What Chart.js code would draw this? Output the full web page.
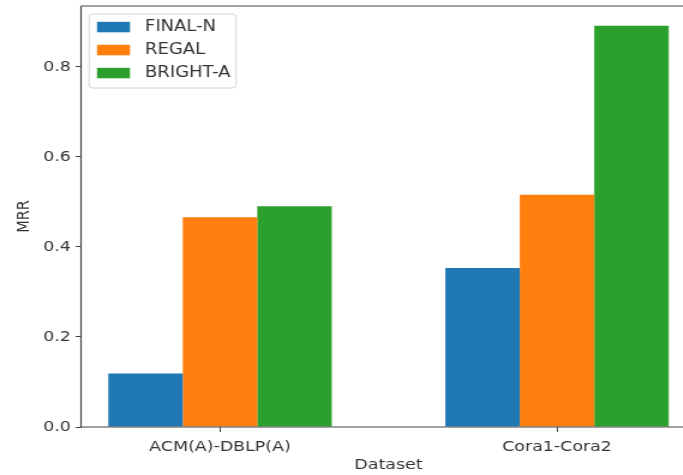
<!DOCTYPE html>
<html>
<head>
<meta charset="utf-8">
<script src="https://cdn.jsdelivr.net/npm/chart.js@4.4.1/dist/chart.umd.min.js"></script>
<style>
  html, body { margin: 0; padding: 0; background: #fff; overflow: hidden; }
  /* the figure is drawn narrow and widened horizontally */
  #wrap { width: 584px; height: 475px; transform: scaleX(1.2); transform-origin: 0 0; }
  canvas { display: block; }
</style>
</head>
<body>
<div id="wrap"><canvas id="c" width="584" height="475"></canvas></div>
<script>
// MRR per dataset pair
const categories = ['ACM(A)-DBLP(A)', 'Cora1-Cora2'];
const seriesNames = ['FINAL-N', 'REGAL', 'BRIGHT-A'];
const finalN  = [0.119, 0.353];
const regal   = [0.466, 0.516];
const brightA = [0.490, 0.891];
const yTicks  = [0.0, 0.2, 0.4, 0.6, 0.8];
const seriesColors = ['#1f77b4', '#ff7f0e', '#2ca02c'];

const textColor = '#333';
const FONT = 'DejaVu Sans';
Chart.defaults.font.family = FONT;

const toPoints = vals => vals.map((v, i) => ({ x: i, y: v }));

const noEdgePadding = s => {
  s.paddingTop = 0; s.paddingBottom = 0; s.paddingLeft = 0; s.paddingRight = 0;
};

// frame around the plotting area, drawn over the bars
const spines = {
  id: 'spines',
  afterDatasetsDraw(chart) {
    const { ctx, chartArea: a } = chart;
    ctx.save();
    ctx.strokeStyle = '#444';
    ctx.lineWidth = 1.2;
    ctx.beginPath();
    ctx.moveTo(a.left, a.top); ctx.lineTo(a.right, a.top);
    ctx.moveTo(a.left, a.bottom); ctx.lineTo(a.right, a.bottom);
    ctx.moveTo(a.left, a.top); ctx.lineTo(a.left, a.bottom);
    ctx.moveTo(a.right, a.top); ctx.lineTo(a.right, a.bottom);
    ctx.stroke();
    ctx.restore();
  }
};

// boxed legend in the upper-left corner of the plot
const legendBox = {
  id: 'legendBox',
  afterDatasetsDraw(chart) {
    const { ctx, chartArea: a } = chart;
    const x = a.left + 6.7, y = a.top + 8, w = 122.5, h = 74;
    ctx.save();
    ctx.fillStyle = 'rgba(255,255,255,0.9)';
    ctx.strokeStyle = '#d4d4d4';
    ctx.lineWidth = 1;
    ctx.beginPath();
    ctx.roundRect(x, y, w, h, 3);
    ctx.fill();
    ctx.stroke();
    ctx.font = `15px "${FONT}"`;
    ctx.textBaseline = 'middle';
    ctx.textAlign = 'left';
    chart.data.datasets.forEach((ds, i) => {
      const cy = y + 13 + i * 23;
      ctx.fillStyle = ds.backgroundColor;
      ctx.fillRect(x + 6.6, cy - 5.2, 27.5, 10.5);
      ctx.fillStyle = textColor;
      ctx.fillText(ds.label, x + 46.6, cy + 0.5);
    });
    ctx.restore();
  }
};

new Chart(document.getElementById('c'), {
  type: 'bar',
  data: {
    datasets: [
      { label: seriesNames[0], data: toPoints(finalN),  backgroundColor: seriesColors[0] },
      { label: seriesNames[1], data: toPoints(regal),   backgroundColor: seriesColors[1] },
      { label: seriesNames[2], data: toPoints(brightA), backgroundColor: seriesColors[2] }
    ]
  },
  options: {
    responsive: false,
    animation: false,
    devicePixelRatio: 1,
    categoryPercentage: 0.663,
    barPercentage: 1.0,
    layout: { padding: { top: 6, right: 4, left: 0, bottom: 0 } },
    plugins: {
      legend: { display: false },
      tooltip: { enabled: false }
    },
    scales: {
      x: {
        type: 'linear',
        offset: false,
        min: -0.4125,
        max: 1.4125,
        afterBuildTicks: s => { s.ticks = categories.map((_, i) => ({ value: i })); },
        afterFit: s => { s.height = 48; noEdgePadding(s); },
        ticks: {
          callback: v => categories[v] ?? '',
          autoSkip: false,
          maxRotation: 0,
          padding: 7,
          color: textColor,
          font: { size: 14.5 }
        },
        grid: { offset: false, drawOnChartArea: false, drawTicks: true, tickLength: 5, color: '#444' },
        border: { display: false },
        title: {
          display: true,
          text: 'Dataset',
          color: textColor,
          font: { size: 14.5 },
          padding: { top: 2, bottom: 1 }
        }
      },
      y: {
        min: 0,
        max: 0.935,
        afterBuildTicks: s => { s.ticks = yTicks.map(v => ({ value: v })); },
        afterFit: s => { s.width = 67.5; noEdgePadding(s); },
        ticks: {
          callback: v => Number(v).toFixed(1),
          padding: 4,
          color: textColor,
          font: { size: 14.5 }
        },
        grid: { drawOnChartArea: false, drawTicks: true, tickLength: 4.5, color: '#444' },
        border: { display: false },
        title: {
          display: true,
          text: 'MRR',
          color: textColor,
          font: { size: 14.5 },
          padding: { top: 12, bottom: 0 }
        }
      }
    }
  },
  plugins: [spines, legendBox]
});
</script>
</body>
</html>
